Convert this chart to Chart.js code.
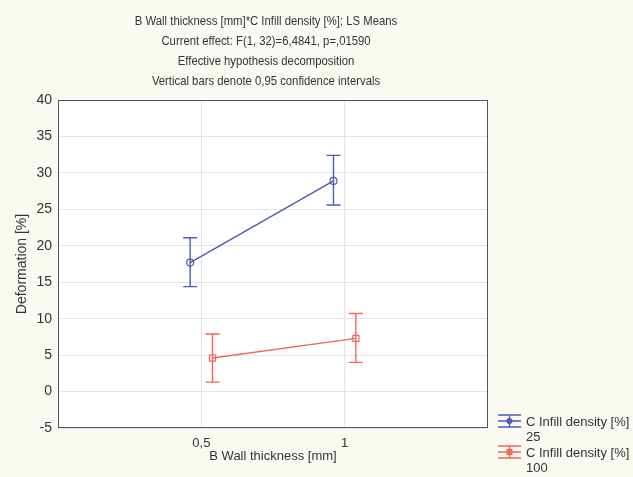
<!DOCTYPE html>
<html>
<head>
<meta charset="utf-8">
<script src="https://cdn.jsdelivr.net/npm/chart.js@4.4.1/dist/chart.umd.min.js"></script>
<style>
    html, body { margin: 0; padding: 0; background: #fafaf2; }
    #wrap { width: 633px; height: 477px; }
</style>
</head>
<body>
<div id="wrap"><canvas id="lsmeans"></canvas></div>
<script>
// values
const wallThickness = [0.5, 1];
const tickLabels = ["0,5", "1"];
const seriesNames = ["C Infill density [%]\n25", "C Infill density [%]\n100"];
const means25 = [17.7, 28.9];
const lower25 = [14.4, 25.6];
const upper25 = [21.1, 32.4];
const means100 = [4.6, 7.3];
const lower100 = [1.3, 4.0];
const upper100 = [7.9, 10.7];
const titleLines = [
    "B Wall thickness [mm]*C Infill density [%]; LS Means",
    "Current effect: F(1, 32)=6,4841, p=,01590",
    "Effective hypothesis decomposition",
    "Vertical bars denote 0,95 confidence intervals",
];

const BLUE = "#4b5cb6";
const RED = "#f2675a";
const TEXT = "#333333";
const FONT = "'Liberation Sans', Arial, sans-serif";
const dodge = 0.039;

const toPoints = (means, shift) =>
    wallThickness.map((x, i) => ({ x: x + shift, y: means[i] }));

const errorBars = {
    id: "errorBars",
    afterDatasetsDraw: (chart) => {
        const ctx = chart.ctx;
        const xs = chart.scales.x;
        const ys = chart.scales.y;
        const bars = [
            { lo: lower25, hi: upper25, shift: -dodge, color: BLUE },
            { lo: lower100, hi: upper100, shift: dodge, color: RED },
        ];
        ctx.save();
        ctx.lineWidth = 1.4;
        bars.forEach((b) => {
            ctx.strokeStyle = b.color;
            wallThickness.forEach((x, i) => {
                const px = xs.getPixelForValue(x + b.shift);
                const top = ys.getPixelForValue(b.hi[i]);
                const bot = ys.getPixelForValue(b.lo[i]);
                ctx.beginPath();
                ctx.moveTo(px, top);
                ctx.lineTo(px, bot);
                ctx.moveTo(px - 7, top);
                ctx.lineTo(px + 7, top);
                ctx.moveTo(px - 7, bot);
                ctx.lineTo(px + 7, bot);
                ctx.stroke();
            });
        });
        ctx.restore();
    },
};

const frameAndText = {
    id: "frameAndText",
    beforeDraw: (chart) => {
        const ctx = chart.ctx;
        const a = chart.chartArea;
        ctx.save();
        ctx.fillStyle = "#fafaf2";
        ctx.fillRect(0, 0, chart.width, chart.height);
        ctx.fillStyle = "#ffffff";
        ctx.fillRect(a.left, a.top, a.right - a.left, a.bottom - a.top);
        ctx.restore();
    },
    afterDraw: (chart) => {
        const ctx = chart.ctx;
        const a = chart.chartArea;
        ctx.save();
        ctx.strokeStyle = "#555555";
        ctx.lineWidth = 1;
        ctx.strokeRect(a.left + 0.5, a.top + 0.5, a.right - a.left - 1, a.bottom - a.top - 1);

        // title, slightly condensed like the original
        ctx.save();
        ctx.fillStyle = TEXT;
        ctx.font = "13px " + FONT;
        ctx.textAlign = "center";
        ctx.textBaseline = "middle";
        ctx.translate(266, 0);
        ctx.scale(0.87, 1);
        titleLines.forEach((line, i) => {
            ctx.fillText(line, 0, 21.5 + i * 20);
        });
        ctx.restore();

        // legend
        const colors = [BLUE, RED];
        ctx.font = "13px " + FONT;
        ctx.textAlign = "left";
        ctx.textBaseline = "middle";
        seriesNames.forEach((name, i) => {
            const cy = 421 + i * 31;
            const c = colors[i];
            ctx.strokeStyle = c;
            ctx.fillStyle = c;
            ctx.lineWidth = 1.3;
            ctx.beginPath();
            ctx.moveTo(498, cy - 6);
            ctx.lineTo(521, cy - 6);
            ctx.moveTo(498, cy);
            ctx.lineTo(521, cy);
            ctx.moveTo(498, cy + 6);
            ctx.lineTo(521, cy + 6);
            ctx.moveTo(509.5, cy - 6);
            ctx.lineTo(509.5, cy + 6);
            ctx.stroke();
            ctx.beginPath();
            if (i === 0) {
                ctx.arc(509.5, cy, 3, 0, Math.PI * 2);
            } else {
                ctx.rect(506.5, cy - 3, 6, 6);
            }
            ctx.fill();
            ctx.fillStyle = TEXT;
            name.split("\n").forEach((part, j) => {
                ctx.fillText(part, 526, cy + 1 + j * 15.5);
            });
        });
        ctx.restore();
    },
};

new Chart(document.getElementById("lsmeans"), {
    type: "line",
    data: {
        datasets: [
            {
                label: seriesNames[0],
                data: toPoints(means25, -dodge),
                borderColor: BLUE,
                borderWidth: 1.4,
                pointStyle: "circle",
                pointRadius: 3.5,
                pointBorderWidth: 1.2,
                pointBackgroundColor: "rgba(0,0,0,0)",
                pointBorderColor: BLUE,
            },
            {
                label: seriesNames[1],
                data: toPoints(means100, dodge),
                borderColor: RED,
                borderWidth: 1.4,
                pointStyle: "rect",
                pointRadius: 4.3,
                pointBorderWidth: 1.2,
                pointBackgroundColor: "rgba(0,0,0,0)",
                pointBorderColor: RED,
            },
        ],
    },
    options: {
        responsive: true,
        maintainAspectRatio: false,
        animation: false,
        layout: {
            padding: { left: 0, right: 145, top: 100, bottom: 0 },
        },
        plugins: {
            legend: { display: false },
            tooltip: { enabled: false },
            title: { display: false },
        },
        scales: {
            x: {
                type: "linear",
                min: 0,
                max: 1.5,
                afterFit: (scale) => {
                    scale.height = 49;
                },
                afterBuildTicks: (scale) => {
                    scale.ticks = wallThickness.map((v) => ({ value: v }));
                },
                ticks: {
                    color: TEXT,
                    font: { family: FONT, size: 13 },
                    padding: 8,
                    callback: (value) => tickLabels[wallThickness.indexOf(value)],
                },
                grid: {
                    color: "#e4e4e4",
                    drawTicks: false,
                },
                border: { display: false },
                title: {
                    display: true,
                    text: "B Wall thickness [mm]",
                    color: TEXT,
                    font: { family: FONT, size: 13 },
                    padding: { top: 0, bottom: 13 },
                },
            },
            y: {
                min: -5,
                max: 40,
                afterFit: (scale) => {
                    scale.width = 58;
                },
                ticks: {
                    stepSize: 5,
                    color: TEXT,
                    font: { family: FONT, size: 14 },
                    padding: 6,
                },
                grid: {
                    color: "#e4e4e4",
                    drawTicks: false,
                },
                border: { display: false },
                title: {
                    display: true,
                    text: "Deformation [%]",
                    color: TEXT,
                    font: { family: FONT, size: 14 },
                    padding: { top: 14, bottom: 0 },
                },
            },
        },
    },
    plugins: [frameAndText, errorBars],
});
</script>
</body>
</html>
